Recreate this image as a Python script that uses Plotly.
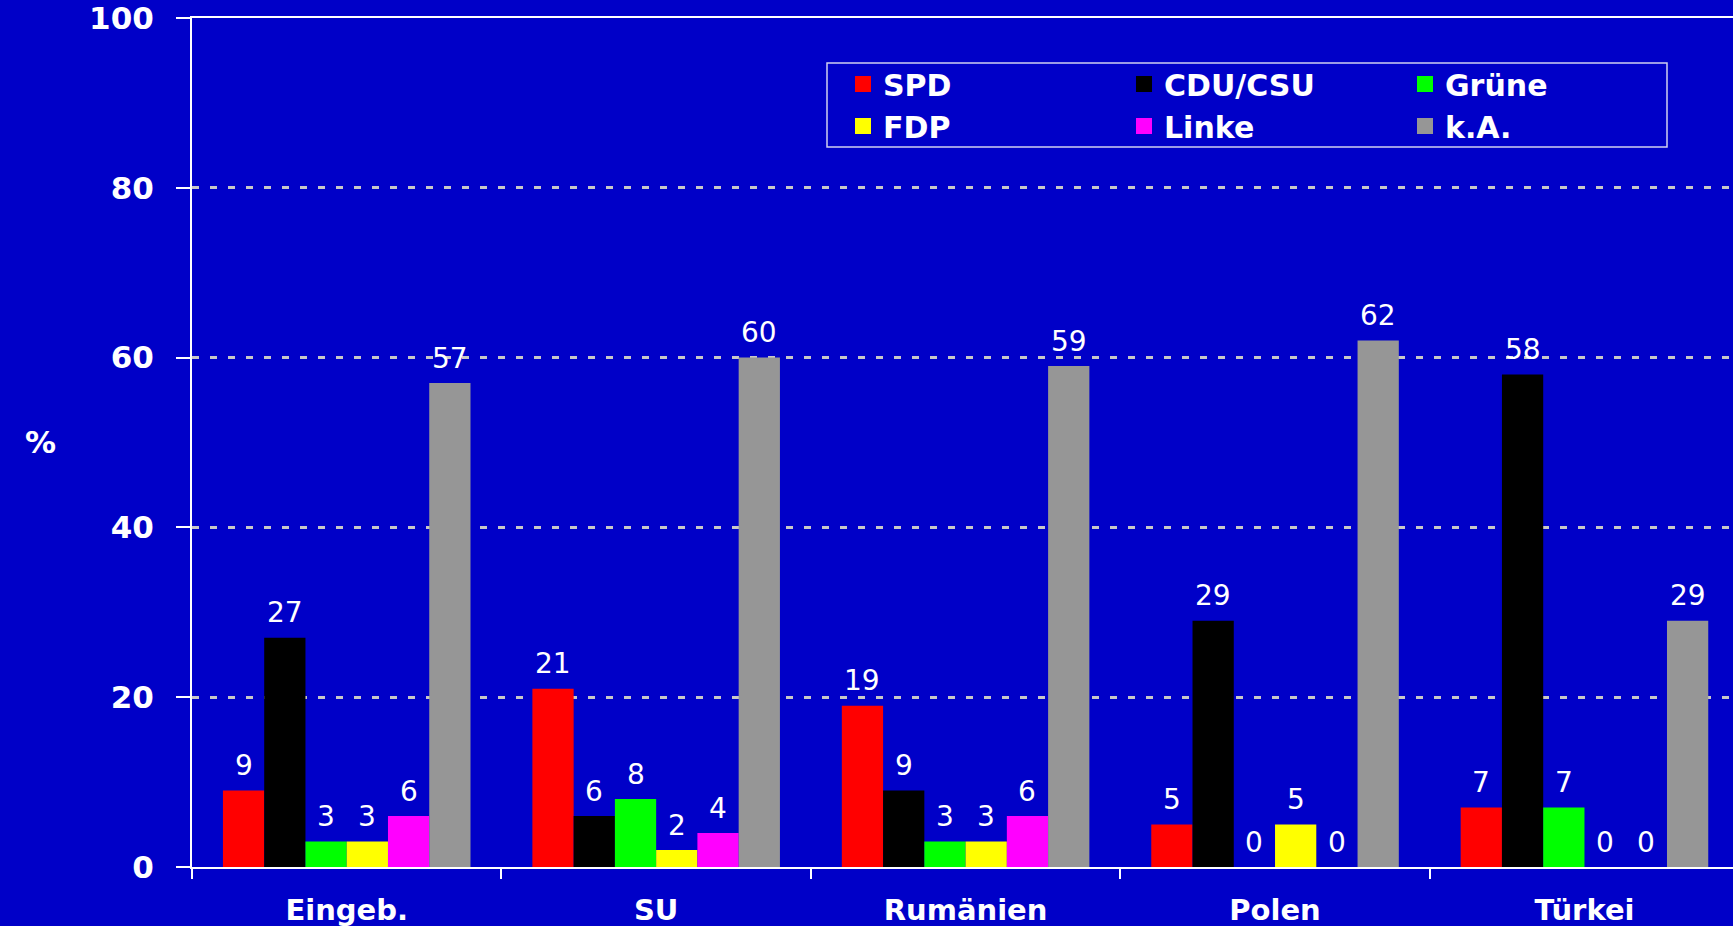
import plotly.graph_objects as go

categories = ["Eingeb.", "SU", "Rumänien", "Polen", "Türkei"]
parties = ["SPD", "CDU/CSU", "Grüne", "FDP", "Linke", "k.A."]
spd = [9, 21, 19, 5, 7]
cdu_csu = [27, 6, 9, 29, 58]
gruene = [3, 8, 3, 0, 7]
fdp = [3, 2, 3, 5, 0]
linke = [6, 4, 6, 0, 0]
ka = [57, 60, 59, 62, 29]
series = [spd, cdu_csu, gruene, fdp, linke, ka]
colors = ["#FF0000", "#000000", "#00FF00", "#FFFF00", "#FF00FF", "#969696"]
y_ticks = [0, 20, 40, 60, 80, 100]

BG = "#0000C8"
FONT = "DejaVu Sans"
W, H = 1733, 926
ML, MR, MT, MB = 192, 0, 18, 59
XRANGE = [-0.5, 4.48]

fig = go.Figure()
for i, (name, vals, col) in enumerate(zip(parties, series, colors)):
    fig.add_trace(go.Bar(
        x=categories, y=vals, name=name, marker=dict(color=col, line=dict(width=0)),
        showlegend=False,
    ))
# legend swatches (square markers, no data points)
for i, (name, col) in enumerate(zip(parties, colors)):
    fig.add_trace(go.Scatter(
        x=[None], y=[None], mode="markers", name=name,
        marker=dict(symbol="square", size=19, color=col, line=dict(width=0)),
        legend="legend" if i < 3 else "legend2", hoverinfo="skip",
    ))

plot_w = W - ML - MR
plot_h = H - MT - MB
px_per_cat = plot_w / (XRANGE[1] - XRANGE[0])
bar_w = px_per_cat * 0.8 / len(parties)


def px_to_paper_x(px):
    return (px - ML) / plot_w


def px_to_paper_y(py):
    return (H - MB - py) / plot_h


annotations = []
for i, vals in enumerate(series):
    for cat, v in zip(categories, vals):
        annotations.append(dict(
            x=cat, y=v, xref="x", yref="y", text=str(v), showarrow=False,
            xshift=(i - (len(parties) - 1) / 2) * bar_w, yshift=25,
            yanchor="middle", xanchor="center",
            font=dict(family=FONT, size=28, color="white"),
        ))
annotations.append(dict(
    x=px_to_paper_x(40), y=px_to_paper_y(442), xref="paper", yref="paper",
    text="<b>%</b>", showarrow=False, xanchor="center", yanchor="middle",
    font=dict(family=FONT, size=31, color="white"),
))

legend_common = dict(
    orientation="h", xanchor="left", yanchor="middle",
    bgcolor="rgba(0,0,0,0)", borderwidth=0,
    entrywidth=236, entrywidthmode="pixels", itemsizing="trace",
    font=dict(family=FONT, size=30, color="white", weight="bold"),
)

fig.update_layout(
    width=W, height=H,
    paper_bgcolor=BG, plot_bgcolor=BG,
    margin=dict(l=ML, r=MR, t=MT, b=MB),
    barmode="group", bargap=0.2, bargroupgap=0,
    font=dict(family=FONT, color="white"),
    annotations=annotations,
    showlegend=True,
    legend=dict(x=px_to_paper_x(843), y=px_to_paper_y(84), **legend_common),
    legend2=dict(x=px_to_paper_x(843), y=px_to_paper_y(126), **legend_common),
    shapes=[dict(
        type="rect", xref="paper", yref="paper",
        x0=px_to_paper_x(827), x1=px_to_paper_x(1667),
        y0=px_to_paper_y(147), y1=px_to_paper_y(63),
        line=dict(color="#D0D0F0", width=1.5), fillcolor="rgba(0,0,0,0)",
        layer="above",
    )],
    xaxis=dict(
        range=XRANGE, showgrid=False, showline=True, linecolor="white", linewidth=2,
        mirror=True, ticks="outside", tickson="boundaries", ticklen=10,
        tickcolor="white", tickwidth=2, ticklabelstandoff=16,
        ticklabeloverflow="allow",
        tickfont=dict(family=FONT, size=29, color="white", weight="bold"),
        zeroline=False,
    ),
    yaxis=dict(
        range=[0, 100], tickvals=y_ticks, showgrid=True, gridcolor="#C8C8C8",
        gridwidth=2.5, griddash="7px,11px", showline=True, linecolor="white",
        linewidth=2, ticks="outside", ticklen=14, tickcolor="white", tickwidth=2,
        ticklabelstandoff=16, zeroline=False, ticklabeloverflow="allow",
        tickfont=dict(family=FONT, size=31, color="white", weight="bold"),
    ),
)

fig.write_html(
    "out.html",
    config={"displayModeBar": False},
    post_script="document.body.style.margin='0';document.body.style.background='#0000C8';",
)
